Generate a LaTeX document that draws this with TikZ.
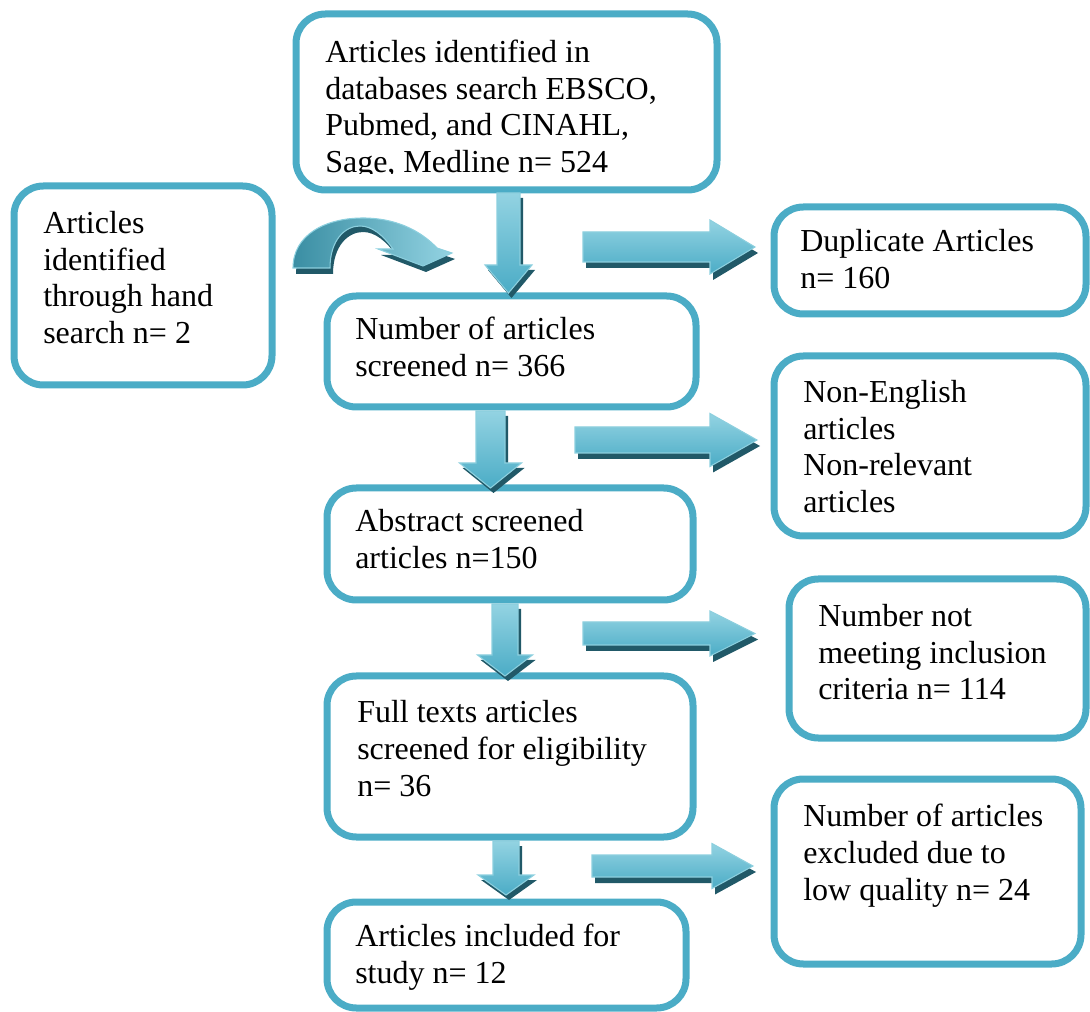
\documentclass[tikz,border=0pt]{standalone}
\usepackage{fontspec}
\setmainfont{Liberation Serif}
\usetikzlibrary{fit}

\definecolor{frame}{HTML}{4BACC6}
\definecolor{arrlight}{HTML}{93D3E2}
\definecolor{arrmid}{HTML}{4BACC6}
\definecolor{arrdeep}{HTML}{3A8EA3}
\definecolor{arrshadow}{HTML}{215968}
\definecolor{arredge}{HTML}{8CCFDE}

\tikzset{
  box/.style={draw=frame, line width=5.25pt, rounded corners=22pt, fill=white, inner sep=0pt},
  % anchored at the baseline of the last line
  txt/.style={inner sep=0pt, align=left, anchor=base west, font=\fontsize{24}{27.4}\selectfont},
  blockfill/.style={top color=arrlight, bottom color=arrmid, draw=arredge, line width=0.8pt},
  blockshadow/.style={fill=arrshadow},
}

% vertical block arrow: name, x centre, y top, y head, y tip, half shaft, half head
\newcommand\downblock[7]{%
  \coordinate (#1s) at (#2,#3);
  \coordinate (#1e) at (#2,#5);
  \fill[blockshadow, shift={(3,5)}] (#2-#6,#3) -- (#2+#6,#3) -- (#2+#6,#4) -- (#2+#7,#4)
        -- (#2,#5) -- (#2-#7,#4) -- (#2-#6,#4) -- cycle;
  \path[blockfill] (#2-#6,#3) -- (#2+#6,#3) -- (#2+#6,#4) -- (#2+#7,#4)
        -- (#2,#5) -- (#2-#7,#4) -- (#2-#6,#4) -- cycle;
}
% horizontal block arrow: name, y centre, x start, x head, x tip, half shaft, half head
\newcommand\rightblock[7]{%
  \coordinate (#1s) at (#3,#2);
  \coordinate (#1e) at (#5,#2);
  \fill[blockshadow, shift={(3,6)}] (#3,#2-#6) -- (#4,#2-#6) -- (#4,#2-#7) -- (#5,#2)
        -- (#4,#2+#7) -- (#4,#2+#6) -- (#3,#2+#6) -- cycle;
  \path[blockfill] (#3,#2-#6) -- (#4,#2-#6) -- (#4,#2-#7) -- (#5,#2)
        -- (#4,#2+#7) -- (#4,#2+#6) -- (#3,#2+#6) -- cycle;
}

\begin{document}
\begin{tikzpicture}[x=0.75pt, y=-0.75pt]
\useasboundingbox (0,0) rectangle (1090,1012);

% boxes
\node[box, fit={(296,14) (717,190)}] (search) {};
\node[box, fit={(14,186) (272,385)}] (hand) {};
\node[box, fit={(774,207) (1086,314)}] (dup) {};
\node[box, fit={(327,296) (696,407)}] (screened) {};
\node[box, fit={(774,356) (1086,536)}] (nonrel) {};
\node[box, fit={(327,488) (693,600)}] (abstract) {};
\node[box, fit={(789,579) (1086,738)}] (notmeet) {};
\node[box, fit={(327,676) (693,837)}] (fulltext) {};
\node[box, fit={(774,779) (1081,964)}] (lowq) {};
\node[box, fit={(327,902) (686,1008)}] (included) {};

% texts
\begin{scope}
  \clip (296,14) rectangle (717,174);
  \node[txt] (searchtxt) at (325,172.5) {Articles identified in\\databases search EBSCO,\\Pubmed, and CINAHL,\\Sage, Medline n= 524};
\end{scope}
\node[txt] (handtxt) at (43,343.5) {Articles\\identified\\through hand\\search n= 2};
\node[txt] (duptxt) at (800,288.5) {Duplicate Articles\\n= 160};
\node[txt] (screenedtxt) at (355,376.5) {Number of articles\\screened n= 366};
\node[txt] (nonreltxt) at (803,512.5) {Non-English\\articles\\Non-relevant\\articles};
\node[txt] (abstracttxt) at (355,568.5) {Abstract screened\\articles n=150};
\node[txt] (notmeettxt) at (818,700) {Number not\\meeting inclusion\\criteria n= 114};
\node[txt] (fulltexttxt) at (357,796) {Full texts articles\\screened for eligibility\\n= 36};
\node[txt] (lowqtxt) at (803,900) {Number of articles\\excluded due to\\low quality n= 24};
\node[txt] (includedtxt) at (355,983.5) {Articles included for\\study n= 12};

% downward block arrows
\downblock{da}{508.5}{193}{265}{293}{11.5}{23.5}
\downblock{db}{490.5}{411}{463}{488}{14.5}{31}
\downblock{dc}{505}{604}{655}{676}{13}{27.5}
\downblock{dd}{506}{841}{875}{895}{13}{28}

% rightward block arrows
\rightblock{ra}{247}{583}{710}{755}{15}{27}
\rightblock{rb}{440}{575}{710}{757}{13}{26.5}
\rightblock{rc}{633.5}{583}{710}{755}{11.5}{22.5}
\rightblock{rd}{866}{592}{712}{753}{11}{22.5}

% curved arrow from the hand-search box
\fill[blockshadow, shift={(3,6)}]
  (293,268) .. controls (293,235) and (325,218) .. (363,218)
  .. controls (395,218) and (420,230) .. (437,248)
  -- (452,253) -- (423,266) -- (378,249) -- (393,249)
  .. controls (383,235) and (372,226) .. (360,226)
  .. controls (345,226) and (330,240) .. (330,268) -- cycle;
\path[left color=arrdeep, right color=arrlight, draw=arredge, line width=0.8pt]
  (293,268) .. controls (293,235) and (325,218) .. (363,218)
  .. controls (395,218) and (420,230) .. (437,248)
  -- (452,253) -- (423,266) -- (378,249) -- (393,249)
  .. controls (383,235) and (372,226) .. (360,226)
  .. controls (345,226) and (330,240) .. (330,268) -- cycle;
\end{tikzpicture}
\end{document}
